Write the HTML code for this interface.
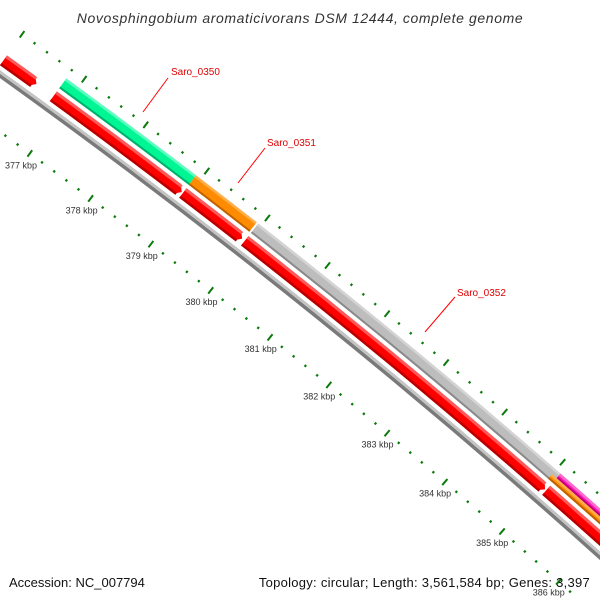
<!DOCTYPE html>
<html><head><meta charset="utf-8"><style>
html,body{margin:0;padding:0;background:#fff;overflow:hidden;width:600px;height:600px}
svg{display:block;overflow:hidden}
text{font-family:"Liberation Sans","DejaVu Sans",sans-serif}
</style></head><body>
<svg id="map" width="600" height="600" viewBox="0 0 600 600" xmlns="http://www.w3.org/2000/svg">
<rect width="600" height="600" fill="#fff"/>
<g id="backbone"></g><g id="genes"></g><g id="ticks"></g>
<g font-size="10" fill="#e00000">
 <line x1="168" y1="78" x2="143" y2="112" stroke="#f00" stroke-width="1"/>
 <text x="171" y="75">Saro_0350</text>
 <line x1="265" y1="148" x2="238" y2="183" stroke="#f00" stroke-width="1"/>
 <text x="267" y="146">Saro_0351</text>
 <line x1="455" y1="297" x2="425" y2="332" stroke="#f00" stroke-width="1"/>
 <text x="457" y="296">Saro_0352</text>
</g>
<text x="300" y="23" text-anchor="middle" font-size="14" letter-spacing="0.6" font-style="italic" fill="#333">Novosphingobium aromaticivorans DSM 12444, complete genome</text>
<text x="9" y="587" font-size="13" fill="#111">Accession: NC_007794</text>
<text x="590" y="587" text-anchor="end" font-size="13" letter-spacing="0.27" fill="#111">Topology: circular; Length: 3,561,584 bp; Genes: 3,397</text>
</svg>
<script>
const geneStarts=[376000,376806,378925,379950,385080,376806,378922,379950,385078,385000];
const geneEnds=[376532,378906,379906,385060,387500,378922,379924,385078,387500,387500];
const geneStrands=["rev","rev","rev","rev","rev","fwd","fwd","fwd","fwdTop","fwdBot"];
const geneColors=["red","red","red","red","red","green","orange","gray","magenta","orange"];
const geneNames=["gene-rev-1","gene-rev-2","gene-rev-3","gene-rev-4","gene-rev-5","gene-saro-0350","gene-saro-0351","gene-saro-0352","gene-magenta","gene-orange-2"];
const tickKbp=[376,377,378,379,380,381,382,383,384,385,386];
const tickLabels=["376 kbp","377 kbp","378 kbp","379 kbp","380 kbp","381 kbp","382 kbp","383 kbp","384 kbp","385 kbp","386 kbp"];

const NS="http://www.w3.org/2000/svg";
const CX=-4105, CY=5803;
function ang(bp){return (-53.80+(bp-377000)*0.000619)*Math.PI/180;}
function pt(r,a){return [CX+r*Math.cos(a),CY+r*Math.sin(a)];}
function f(p){return p[0].toFixed(2)+" "+p[1].toFixed(2);}
function band(r1,r2,a1,a2){
  return "M"+f(pt(r2,a1))+" A"+r2+" "+r2+" 0 0 1 "+f(pt(r2,a2))+" L"+f(pt(r1,a2))+" A"+r1+" "+r1+" 0 0 0 "+f(pt(r1,a1))+"Z";
}
function mk(parent,tag,attrs){const e=document.createElementNS(NS,tag);for(const k in attrs)e.setAttribute(k,attrs[k]);parent.appendChild(e);return e;}
const pal={red:["#ff5a5a","#ff0000","#b80000"],green:["#5dffbe","#00f595","#00b06a"],orange:["#ffae4a","#ff8c00","#c06000"],gray:["#d4d4d4","#bdbdbd","#8a8a8a"],magenta:["#ff6ad0","#ff1ab0","#c00080"]};
const rings={rev:[7055,7067],fwd:[7071,7083],fwdTop:[7077,7083],fwdBot:[7071,7077]};

const bb=document.getElementById("backbone");
let a1=ang(375500),a2=ang(387300);
let p=mk(bb,"path",{d:band(7048,7051,a1,a2),fill:"#c4c4c4"});


p=mk(bb,"path",{d:band(7044.5,7048,a1,a2),fill:"#7a7a7a"});



const gg=document.getElementById("genes");
for(let i=0;i<geneStarts.length;i++){
  const [r1,r2]=rings[geneStrands[i]];
  const s=ang(geneStarts[i]), e=ang(Math.min(geneEnds[i],387300));
  const c=pal[geneColors[i]];
  const g=mk(gg,"g",{});
  
  
  if(geneStrands[i]==="rev"){
    const da=0.045*Math.PI/180, rm=(r1+r2)/2;
    const d="M"+f(pt(r2,s))+" A"+r2+" "+r2+" 0 0 1 "+f(pt(r2,e-da))+" L"+f(pt(rm,e))+" L"+f(pt(r1,e-da))+" A"+r1+" "+r1+" 0 0 0 "+f(pt(r1,s))+"Z";
    mk(g,"path",{d:d,fill:c[1]});
    mk(g,"path",{d:band(r2-3,r2,s,e-da*0.6),fill:c[0]});
    mk(g,"path",{d:band(r1,r1+2.5,s,e-da*0.6),fill:c[2]});
  }else{
    mk(g,"path",{d:band(r1,r2,s,e),fill:c[1]});
    mk(g,"path",{d:band(r2-2.5,r2,s,e),fill:c[0]});
    mk(g,"path",{d:band(r1,r1+2,s,e),fill:c[2]});
  }
}

const tg=document.getElementById("ticks");
for(let i=0;i<tickKbp.length;i++){
  for(let k=0;k<5;k++){
    const bp=tickKbp[i]*1000+k*200, a=ang(bp);
    const major=k===0;
    const rows=[[7001,major?4:1.2],[7093,major?4:1.2]];
    for(const [r,h] of rows){
      const q1=pt(r-h,a), q2=pt(r+h,a);
      if(q1[1]>598) continue;
      const ln=mk(tg,"line",{x1:q1[0],y1:q1[1],x2:q2[0],y2:q2[1],stroke:"#0a7a0a","stroke-width":major?2:2.2});
      
      
    }
  }
  const lp=pt(6986,ang(tickKbp[i]*1000));
  if(lp[1]>597) continue;
  const t=mk(tg,"text",{x:lp[0].toFixed(1),y:(lp[1]+3).toFixed(1),"text-anchor":"middle","font-size":"9",fill:"#333"});
  t.textContent=tickLabels[i];
  
  
}
</script>
</body></html>
